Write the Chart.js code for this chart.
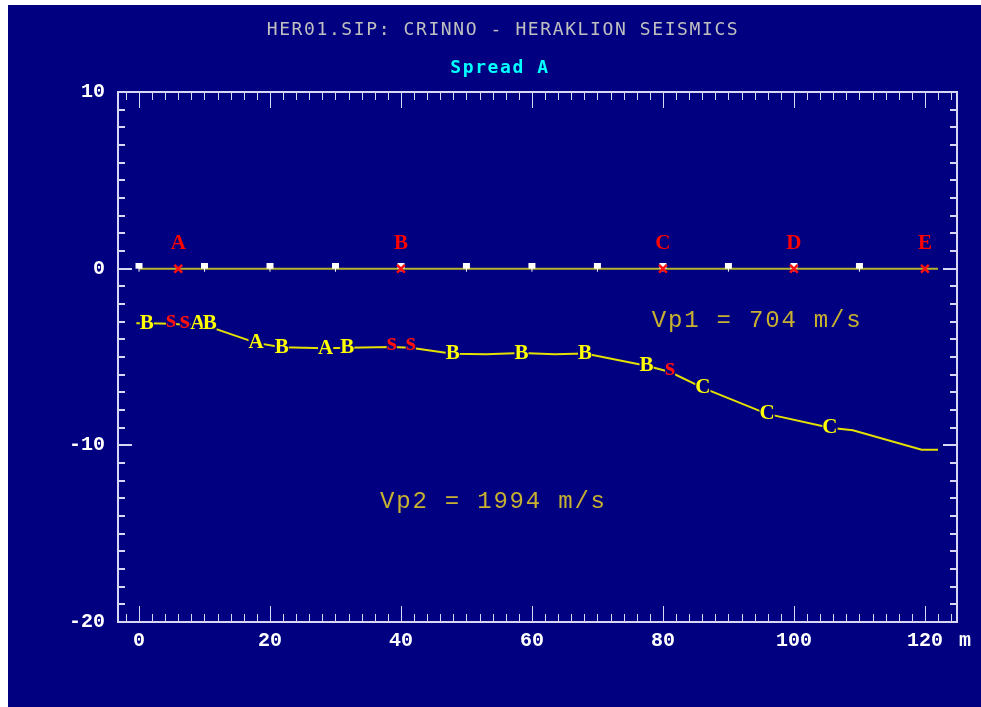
<!DOCTYPE html>
<html>
<head>
<meta charset="utf-8">
<title>HER01.SIP: CRINNO - HERAKLION SEISMICS</title>
<script src="https://cdn.jsdelivr.net/npm/chart.js@4.4.1/dist/chart.umd.min.js"></script>
<style>
  html, body { margin: 0; padding: 0; background: #ffffff; overflow: hidden; }
  #wrap { position: absolute; left: 8px; top: 5px; width: 973px; height: 702px; background: #000080; }
  canvas { display: block; }
</style>
</head>
<body>
<div id="wrap"><canvas id="c" width="973" height="702"></canvas></div>
<script>
// Geophone stations along the spread (m)
const geophoneX = [0, 10, 20, 30, 40, 50, 60, 70, 80, 90, 100, 110];
// Shot points and their names
const shotX = [6, 40, 80, 100, 120];
const shotNames = ['A', 'B', 'C', 'D', 'E'];
// Surface line (elevation 0)
const surfaceX = [0, 122];
const surfaceY = [0, 0];
// Refractor interface (distance m, depth m)
const refractorX = [-0.4, 1.2, 4.9, 7.0, 9.0, 10.8, 11.6, 17.9, 21.8, 28.5, 31.8, 38.6, 41.5, 47.9, 53.0, 58.4, 63.5, 68.1, 77.5, 81.1, 86.1, 95.9, 105.5, 109.0, 119.5, 122.0];
const refractorDepth = [-3.09, -3.09, -3.12, -3.18, -3.12, -3.12, -3.4, -4.2, -4.45, -4.5, -4.48, -4.43, -4.47, -4.82, -4.85, -4.78, -4.85, -4.8, -5.5, -5.85, -6.75, -8.22, -9.0, -9.15, -10.25, -10.25];
// Depth picks and the shot each one comes from ('s' = picked from both sides)
const pickX = [1.2, 4.9, 7.0, 9.0, 10.8, 17.9, 21.8, 28.5, 31.8, 38.6, 41.5, 47.9, 58.4, 68.1, 77.5, 81.1, 86.1, 95.9, 105.5];
const pickDepth = [-3.09, -3.12, -3.18, -3.12, -3.12, -4.2, -4.45, -4.5, -4.48, -4.43, -4.47, -4.82, -4.78, -4.8, -5.5, -5.85, -6.75, -8.22, -9.0];
const pickShot = ['B', 's', 's', 'A', 'B', 'A', 'B', 'A', 'B', 's', 's', 'B', 'B', 'B', 'B', 's', 'C', 'C', 'C'];
// Layer velocities
const velocityLabels = ['Vp1 = 704 m/s', 'Vp2 = 1994 m/s'];
const velocityAnchorX = [78.3, 36.8];
const velocityAnchorY = [-2.95, -13.2];
// Axis ranges and tick steps
const xRange = [-3.2, 124.9];
const yRange = [-20, 10];
const xLabelStep = 20, xMinorStep = 2;
const yLabelStep = 10, yMinorStep = 1;
// Headings
const titleText = 'HER01.SIP: CRINNO - HERAKLION SEISMICS';
const subtitleText = 'Spread A';

const NAVY = '#000080';
const FRAME = '#d8d8f4';
const monoBold = { family: 'Liberation Mono', size: 20, weight: 'bold' };

// Geophone symbol: white square with a short stem into the ground
const geoIcon = document.createElement('canvas');
geoIcon.width = 9; geoIcon.height = 12;
{
  const g = geoIcon.getContext('2d');
  g.fillStyle = '#ffffff';
  g.fillRect(1, 0, 7, 6);
  g.fillRect(4, 6, 1, 3);
}

const headings = {
  id: 'headings',
  afterDraw(chart) {
    const { ctx } = chart;
    ctx.save();
    ctx.textAlign = 'center';
    ctx.textBaseline = 'middle';
    ctx.letterSpacing = '1.6px';
    ctx.font = '18px "DejaVu Sans Mono"';
    ctx.fillStyle = '#c0c0c0';
    ctx.fillText(titleText, 495, 25);
    ctx.font = 'bold 18px "DejaVu Sans Mono"';
    ctx.fillStyle = '#00ffff';
    ctx.fillText(subtitleText, 492, 63);
    ctx.letterSpacing = '0px';
    ctx.restore();
  }
};

const frameAndTicks = {
  id: 'frameAndTicks',
  beforeDatasetsDraw(chart) {
    const { ctx, chartArea: { left, right, top, bottom }, scales: { x, y } } = chart;
    ctx.save();
    ctx.strokeStyle = FRAME;
    ctx.lineWidth = 2;
    ctx.strokeRect(left, top, right - left, bottom - top);
    ctx.lineWidth = 1;
    ctx.beginPath();
    for (let v = Math.ceil(xRange[0] / xMinorStep) * xMinorStep; v <= xRange[1]; v += xMinorStep) {
      const px = Math.round(x.getPixelForValue(v)) + 0.5;
      const len = v % xLabelStep === 0 ? 16 : 8;
      ctx.moveTo(px, top); ctx.lineTo(px, top + len);
      ctx.moveTo(px, bottom); ctx.lineTo(px, bottom - len);
    }
    ctx.stroke();
    ctx.lineWidth = 2;
    ctx.beginPath();
    for (let v = yRange[0]; v <= yRange[1]; v += yMinorStep) {
      const py = Math.round(y.getPixelForValue(v));
      const len = v % yLabelStep === 0 ? 14 : 7;
      ctx.moveTo(left, py); ctx.lineTo(left + len, py);
      ctx.moveTo(right, py); ctx.lineTo(right - len, py);
    }
    ctx.stroke();
    ctx.restore();
  }
};

const annotations = {
  id: 'annotations',
  afterDatasetsDraw(chart) {
    const { ctx, chartArea, scales: { x, y } } = chart;
    ctx.save();
    ctx.textAlign = 'center';
    ctx.textBaseline = 'middle';

    // shot names above the red shot markers
    ctx.font = 'bold 21px "Liberation Serif"';
    ctx.fillStyle = '#ff0000';
    const shotMeta = chart.getDatasetMeta(0);
    shotMeta.data.forEach((pt, i) => {
      ctx.fillText(shotNames[i], pt.x, pt.y - 25);
    });

    // depth picks drawn as letters sitting on the refractor
    const pickMeta = chart.getDatasetMeta(4);
    pickMeta.data.forEach((pt, i) => {
      const s = pickShot[i];
      const lower = s === 's';
      ctx.font = lower ? 'bold 26px "Liberation Serif"' : 'bold 21px "Liberation Serif"';
      const w = ctx.measureText(s).width;
      const cy = pt.y - 1;
      ctx.fillStyle = NAVY;
      ctx.fillRect(pt.x - w / 2, cy - 7, w, 14);
      ctx.fillStyle = lower ? '#ff1010' : '#ffff00';
      ctx.fillText(s, pt.x, lower ? cy - 3 : cy + 1);
    });

    // layer velocities
    ctx.font = '24px "Liberation Mono"';
    ctx.letterSpacing = '1.8px';
    ctx.textAlign = 'left';
    ctx.fillStyle = '#c8b030';
    velocityLabels.forEach((t, i) => {
      ctx.fillText(t, x.getPixelForValue(velocityAnchorX[i]), y.getPixelForValue(velocityAnchorY[i]));
    });
    ctx.letterSpacing = '0px';

    // distance unit at the end of the x axis
    ctx.font = 'bold 20px "Liberation Mono"';
    ctx.fillStyle = '#ffffff';
    ctx.textAlign = 'center';
    ctx.fillText('m', chartArea.right + 8, chartArea.bottom + 19);
    ctx.restore();
  }
};

const toPoints = (xs, ys) => xs.map((v, i) => ({ x: v, y: Array.isArray(ys) ? ys[i] : ys }));

new Chart(document.getElementById('c'), {
  type: 'scatter',
  data: {
    datasets: [
      { // 0: shots
        data: toPoints(shotX, 0),
        pointStyle: 'crossRot', pointRadius: 5.5, borderColor: '#ff1010', borderWidth: 2.5,
        backgroundColor: '#ff1010', showLine: false
      },
      { // 1: geophones
        data: toPoints(geophoneX, 0),
        pointStyle: geoIcon, pointRadius: 5, showLine: false
      },
      { // 2: surface
        data: toPoints(surfaceX, surfaceY),
        showLine: true, borderColor: '#b4b42c', borderWidth: 2, pointRadius: 0, tension: 0
      },
      { // 3: refractor
        data: toPoints(refractorX, refractorDepth),
        showLine: true, borderColor: '#e4e000', borderWidth: 2, pointRadius: 0, tension: 0
      },
      { // 4: picks (drawn as letters)
        data: toPoints(pickX, pickDepth),
        showLine: false, pointRadius: 0
      }
    ]
  },
  options: {
    responsive: false,
    animation: false,
    events: [],
    layout: { padding: { left: 0, right: 24, top: 87, bottom: 0 } },
    plugins: {
      legend: { display: false },
      tooltip: { enabled: false },
      title: { display: false },
      subtitle: { display: false }
    },
    scales: {
      x: {
        type: 'linear', position: 'bottom',
        min: xRange[0], max: xRange[1],
        afterFit(s) { s.height = 85; },
        grid: { display: false, drawTicks: false },
        border: { display: false },
        ticks: {
          stepSize: xLabelStep, includeBounds: false, autoSkip: false, maxRotation: 0,
          color: '#ffffff', font: monoBold, padding: 7
        }
      },
      y: {
        type: 'linear', position: 'left',
        min: yRange[0], max: yRange[1],
        afterFit(s) { s.width = 110; },
        grid: { display: false, drawTicks: false },
        border: { display: false },
        ticks: { stepSize: yLabelStep, color: '#ffffff', font: monoBold, padding: 13 }
      }
    }
  },
  plugins: [frameAndTicks, annotations, headings]
});
</script>
</body>
</html>
